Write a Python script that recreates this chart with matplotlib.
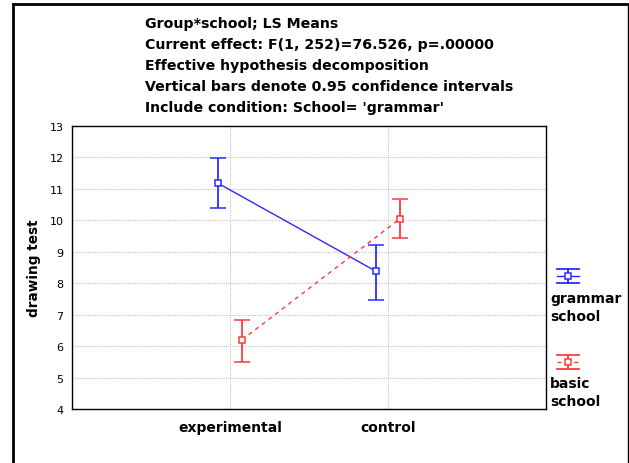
import matplotlib
matplotlib.use('Agg')
import matplotlib.pyplot as plt
from matplotlib.lines import Line2D

# datos
grupos = ['experimental', 'control']
grammar_media = [11.18, 8.38]
grammar_inf = [10.38, 7.48]
grammar_sup = [11.97, 9.22]
basic_media = [6.20, 10.05]
basic_inf = [5.51, 9.45]
basic_sup = [6.84, 10.68]

titulo = ["Group*school; LS Means",
          "Current effect: F(1, 252)=76.526, p=.00000",
          "Effective hypothesis decomposition",
          "Vertical bars denote 0.95 confidence intervals",
          "Include condition: School= 'grammar'"]

AZUL = '#2b2bff'
ROJO = '#ff3b3b'

fig = plt.figure(figsize=(6.29, 4.64), dpi=100)
W, H = 629, 464

# marco exterior
fig.add_artist(Line2D([13 / W, 13 / W], [0, 1 - 5 / H], transform=fig.transFigure, color='black', lw=2))
fig.add_artist(Line2D([13 / W, 628 / W], [1 - 5 / H, 1 - 5 / H], transform=fig.transFigure, color='black', lw=2))
fig.add_artist(Line2D([628 / W, 628 / W], [0, 1 - 5 / H], transform=fig.transFigure, color='black', lw=1))

ax = fig.add_axes([72 / W, 1 - 410 / H, 474 / W, 283 / H])

x = [1, 2]
off = 0.076
xg = [v - off for v in x]
xb = [v + off for v in x]

ax.errorbar(xg, grammar_media,
            yerr=[[m - l for m, l in zip(grammar_media, grammar_inf)],
                  [u - m for m, u in zip(grammar_media, grammar_sup)]],
            color=AZUL, lw=1, elinewidth=1.3, capsize=6, capthick=1.3,
            marker='s', ms=4, mfc='white', mec=AZUL, mew=1.1, zorder=3)
ax.errorbar(xb, basic_media,
            yerr=[[m - l for m, l in zip(basic_media, basic_inf)],
                  [u - m for m, u in zip(basic_media, basic_sup)]],
            color=ROJO, lw=1, ls=(0, (3, 3)), elinewidth=1.3, capsize=6, capthick=1.3,
            marker='s', ms=4, mfc='white', mec=ROJO, mew=1.1, zorder=3)

ax.set_xlim(0, 3)
ax.set_ylim(4, 13)
ax.set_yticks(range(4, 14))
ax.set_xticks(x)
ax.set_xticklabels(grupos, fontsize=10, fontweight='bold')
ax.tick_params(axis='y', labelsize=8, length=0, pad=6)
ax.tick_params(axis='x', length=0, pad=8)
ax.grid(True, color='#c4c4c4', ls=(0, (1, 1)), lw=0.8)
ax.set_ylabel('drawing test', fontsize=9.8, fontweight='bold', labelpad=6)
for s in ax.spines.values():
    s.set_linewidth(1)

# titulo
for i, linea in enumerate(titulo):
    fig.text(145 / W, 1 - (24 + 21 * i) / H, linea, fontsize=10.2,
             fontweight='bold', va='center', ha='left')

# leyenda
def simbolo(yc, color, ls):
    x0, x1, xc = 557 / W, 579 / W, 568 / W
    t = fig.transFigure
    fig.add_artist(Line2D([x0, x1], [1 - (yc - 7) / H] * 2, transform=t, color=color, lw=1.3))
    fig.add_artist(Line2D([x0, x1], [1 - (yc + 7) / H] * 2, transform=t, color=color, lw=1.3))
    fig.add_artist(Line2D([x0, x1], [1 - yc / H] * 2, transform=t, color=color, lw=1, ls=ls))
    fig.add_artist(Line2D([xc, xc], [1 - (yc - 7) / H, 1 - (yc + 7) / H], transform=t, color=color, lw=1.3))
    fig.add_artist(Line2D([xc], [1 - yc / H], transform=t, color=color, marker='s', ms=4,
                          mfc='white', mec=color, mew=1.1))

simbolo(277, AZUL, '-')
simbolo(363, ROJO, (0, (3, 3)))
fig.text(550 / W, 1 - 308 / H, 'grammar\nschool', fontsize=10, fontweight='bold',
         va='center', ha='left', linespacing=1.3)
fig.text(550 / W, 1 - 393 / H, 'basic\nschool', fontsize=10, fontweight='bold',
         va='center', ha='left', linespacing=1.3)

fig.savefig('out.png', dpi=100)
